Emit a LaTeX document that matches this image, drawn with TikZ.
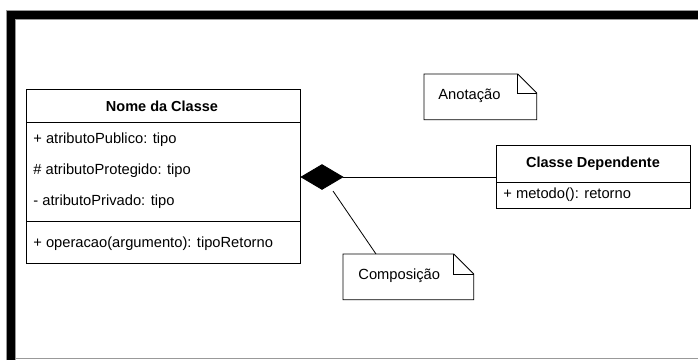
\documentclass[tikz,border=0pt]{standalone}
\usepackage{fontspec}
\setmainfont{Liberation Sans}
\usetikzlibrary{shapes.geometric}
\begin{document}
\begin{tikzpicture}[x=1pt, y=-1pt, line width=0.8pt,
  umlbox/.style={draw=black, line width=0.8pt, inner sep=0pt, anchor=north west},
  txt/.style={inner sep=0pt, font=\fontsize{14.7}{17}\selectfont},
  member/.style={txt, anchor=base west},
  title/.style={txt, anchor=base, font=\fontsize{14.5}{17}\selectfont\bfseries},
  notearea/.style={inner sep=0pt, anchor=north west},
  edge/.style={draw=black, line width=0.8pt},
  frameedge/.style={draw=black!40, line width=0.6pt}]
\useasboundingbox (0,0) rectangle (698,360);

% window frame
\fill[black] (6,10) rectangle (698,19);
\fill[black] (6,10) rectangle (15,360);
\draw[frameedge] (6,360) -- (6,10) -- (698,10);
\draw[frameedge] (15,360) -- (15,19) -- (698,19);
\draw[frameedge] (15,358.7) -- (698,358.7);

% class with attributes and operations
\node[umlbox, minimum width=274pt, minimum height=174pt] (classe) at (26,89) {};
\draw ([yshift=-33pt]classe.north west) -- ([yshift=-33pt]classe.north east);
\draw ([yshift=-132pt]classe.north west) -- ([yshift=-132pt]classe.north east);
\node[title] (nome) at (162,111) {Nome da Classe};
\node[member] (a1) at (33,143) {+ atributoPublico: tipo};
\node[member] (a2) at (33,174) {\# atributoProtegido: tipo};
\node[member] (a3) at (33,205) {- atributoPrivado: tipo};
\node[member] (op) at (33,247) {+ operacao(argumento): tipoRetorno};

% dependent class
\node[umlbox, minimum width=194pt, minimum height=63pt] (dep) at (496,145) {};
\draw ([yshift=-37pt]dep.north west) -- ([yshift=-37pt]dep.north east);
\node[title] (depnome) at (593,167) {Classe Dependente};
\node[member] (m1) at (503,198) {+ metodo(): retorno};

% composition diamond and link
\node[diamond, fill=black, draw=black, inner sep=0pt, minimum width=42pt,
      minimum height=25pt] (comp) at (322,177) {};
\draw[edge] (comp.east) -- (comp.east -| dep.west);

% note: Anotacao
\node[notearea, minimum width=112pt, minimum height=45pt] (anot) at (424,74) {};
\draw[edge] ([xshift=-19pt]anot.north east) -- (anot.north west) -- (anot.south west)
  -- (anot.south east) -- ([yshift=-19pt]anot.north east) -- cycle;
\draw[edge] ([xshift=-19pt]anot.north east) -- ([xshift=-19pt,yshift=-19pt]anot.north east)
  -- ([yshift=-19pt]anot.north east);
\node[member] (anottxt) at (438,99) {Anotação};

% note: Composicao
\node[notearea, minimum width=130pt, minimum height=45pt] (cnote) at (343,254) {};
\draw[edge] ([xshift=-20pt]cnote.north east) -- (cnote.north west) -- (cnote.south west)
  -- (cnote.south east) -- ([yshift=-20pt]cnote.north east) -- cycle;
\draw[edge] ([xshift=-20pt]cnote.north east) -- ([xshift=-20pt,yshift=-20pt]cnote.north east)
  -- ([yshift=-20pt]cnote.north east);
\node[member] (ctxt) at (358,279) {Composição};

% note anchor line
\coordinate (noteanchor) at (333,191);
\draw[edge] (noteanchor) -- ([xshift=33pt]cnote.north west);
\end{tikzpicture}
\end{document}
